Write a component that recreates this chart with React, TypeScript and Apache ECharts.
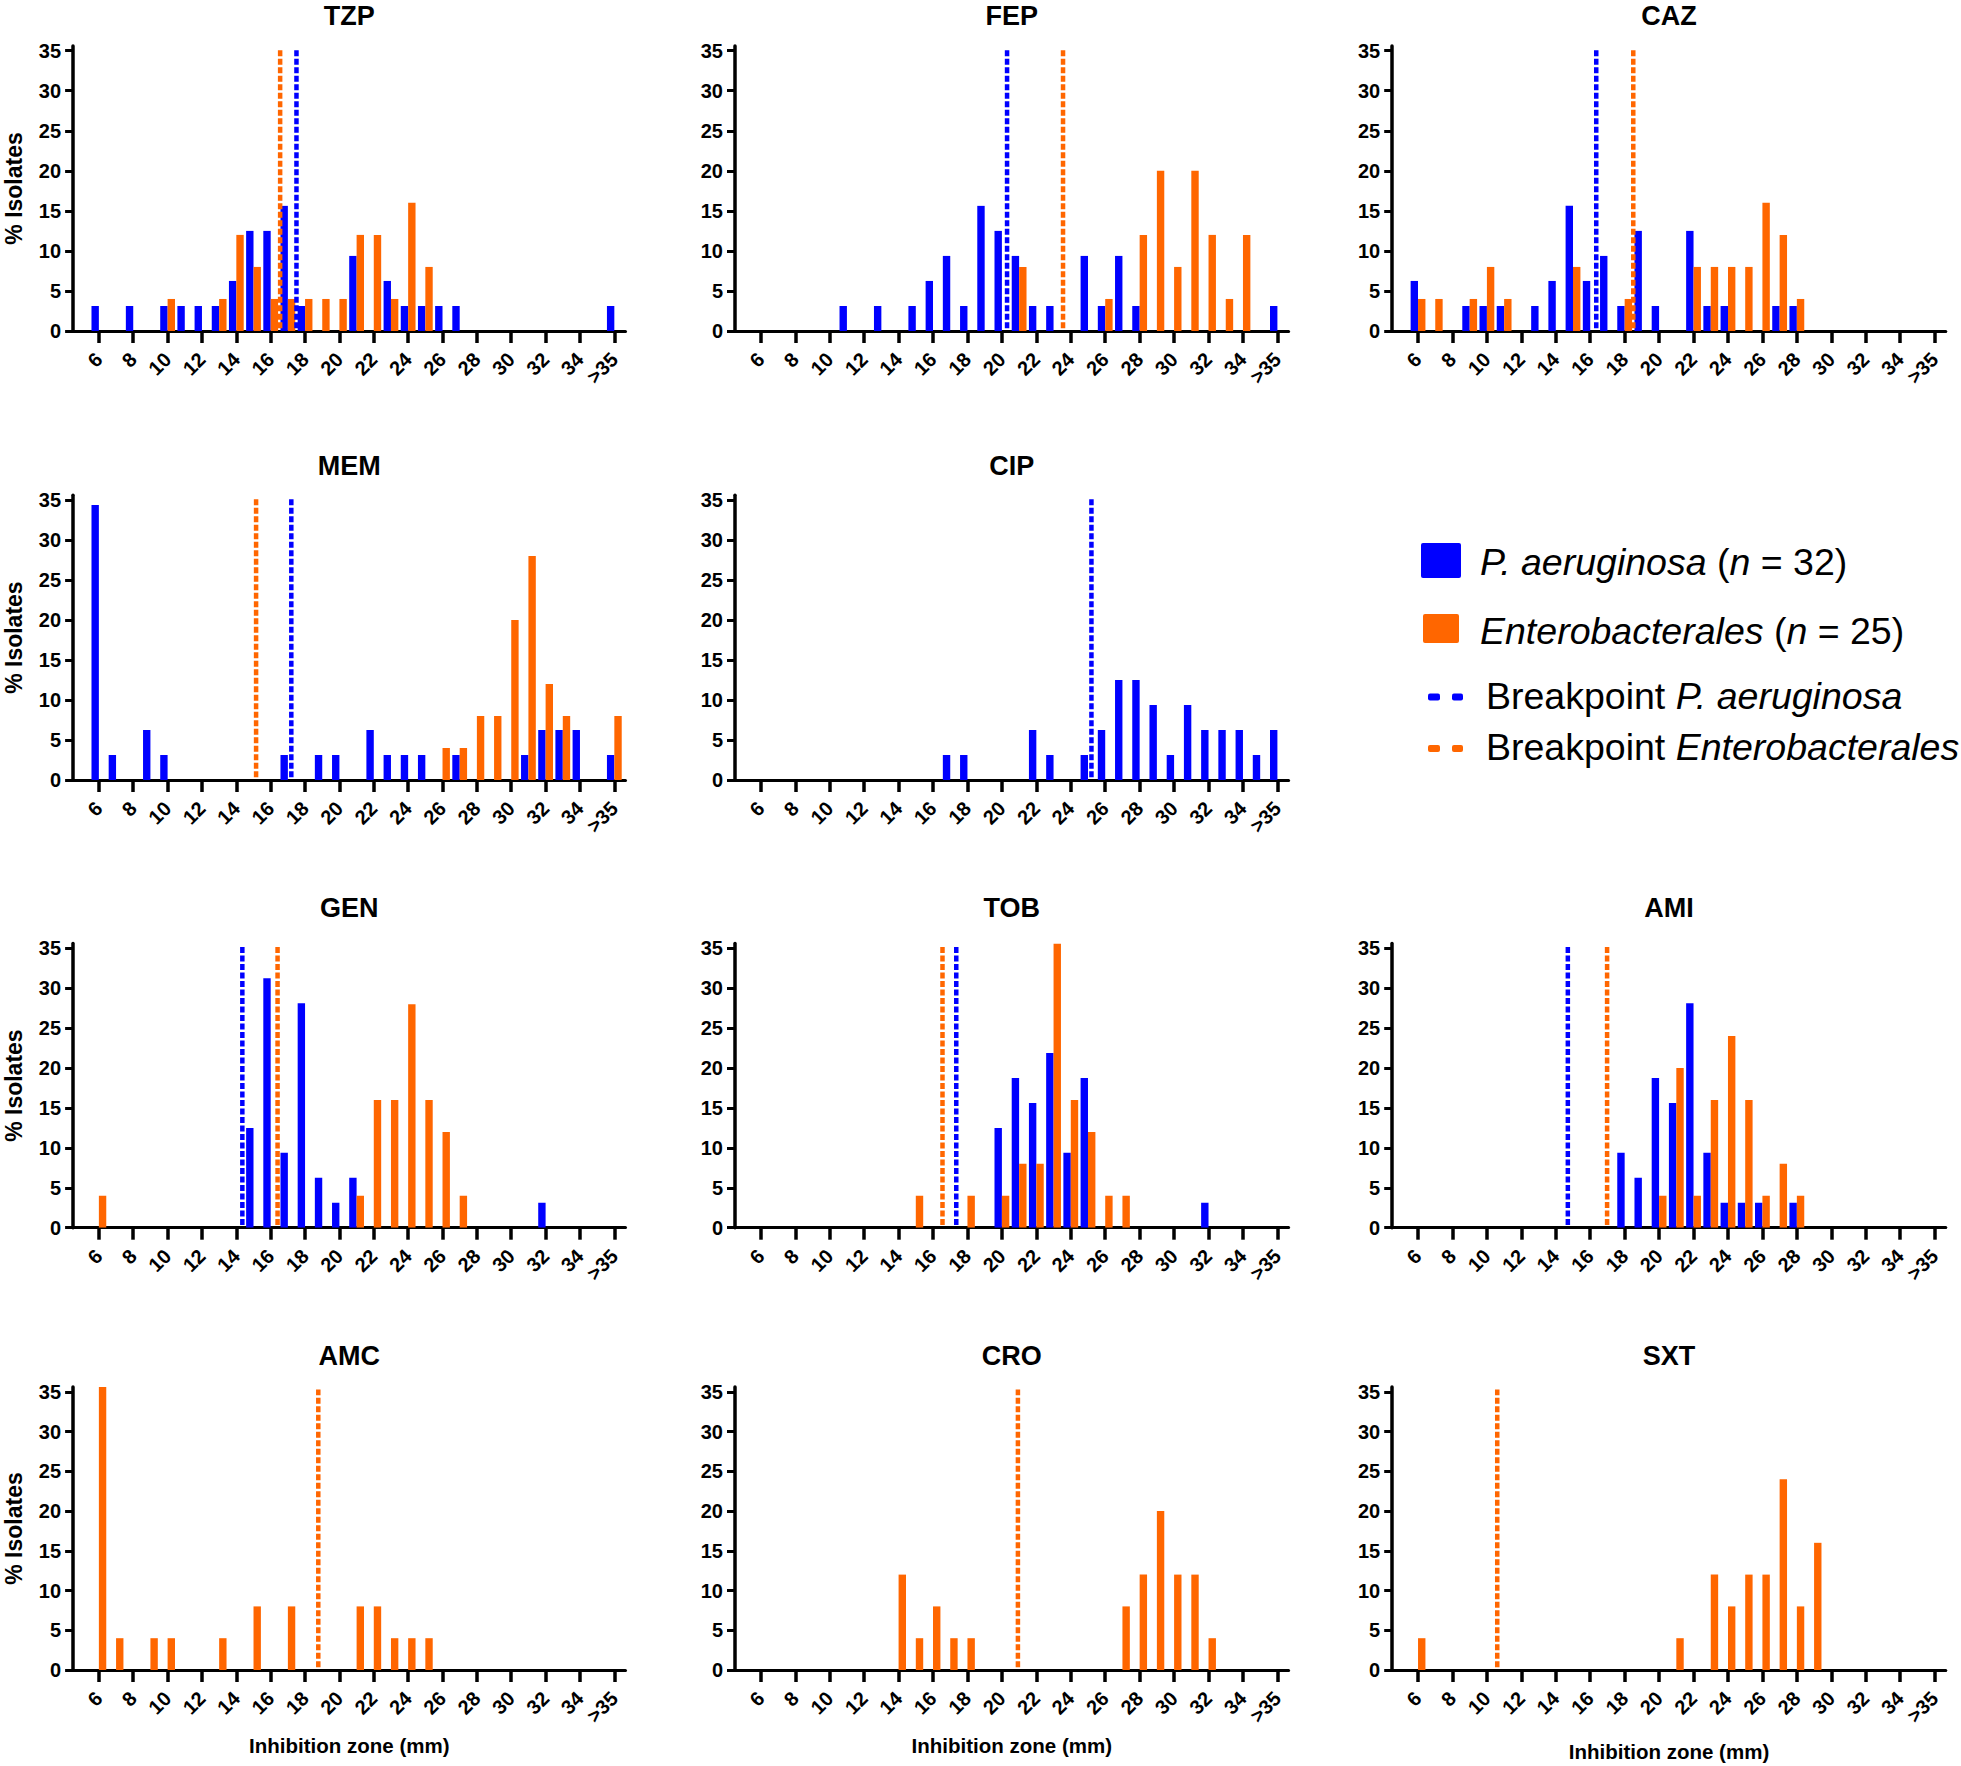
import React, { useEffect, useRef } from 'react';
import * as echarts from 'echarts';

const W = 1961;
const H = 1766;
const BLUE = '#0000FF';
const ORANGE = '#FF6600';
const FONT = "'Liberation Sans', Arial, Helvetica, sans-serif";

// x axis: inhibition zone (mm); 36 stands for ">35"
const ZONE_TICKS = [6, 8, 10, 12, 14, 16, 18, 20, 22, 24, 26, 28, 30, 32, 34, 36];
const ZONE_TICK_LABELS = ['6', '8', '10', '12', '14', '16', '18', '20', '22', '24', '26', '28', '30', '32', '34', '>35'];
const Y_TICKS = [0, 5, 10, 15, 20, 25, 30, 35];

// [zone, % isolates]
const TZP_PA: [number, number][] = [[6, 3.125], [8, 3.125], [10, 3.125], [11, 3.125], [12, 3.125], [13, 3.125], [14, 6.25], [15, 12.5], [16, 12.5], [17, 15.625], [18, 3.125], [21, 9.375], [23, 6.25], [24, 3.125], [25, 3.125], [26, 3.125], [27, 3.125], [36, 3.125]];
const TZP_EN: [number, number][] = [[10, 4], [13, 4], [14, 12], [15, 8], [16, 4], [17, 4], [18, 4], [19, 4], [20, 4], [21, 12], [22, 12], [23, 4], [24, 16], [25, 8]];

const FEP_PA: [number, number][] = [[11, 3.125], [13, 3.125], [15, 3.125], [16, 6.25], [17, 9.375], [18, 3.125], [19, 15.625], [20, 12.5], [21, 9.375], [22, 3.125], [23, 3.125], [25, 9.375], [26, 3.125], [27, 9.375], [28, 3.125], [36, 3.125]];
const FEP_EN: [number, number][] = [[21, 8], [26, 4], [28, 12], [29, 20], [30, 8], [31, 20], [32, 12], [33, 4], [34, 12]];

const CAZ_PA: [number, number][] = [[6, 6.25], [9, 3.125], [10, 3.125], [11, 3.125], [13, 3.125], [14, 6.25], [15, 15.625], [16, 6.25], [17, 9.375], [18, 3.125], [19, 12.5], [20, 3.125], [22, 12.5], [23, 3.125], [24, 3.125], [27, 3.125], [28, 3.125]];
const CAZ_EN: [number, number][] = [[6, 4], [7, 4], [9, 4], [10, 8], [11, 4], [15, 8], [18, 4], [22, 8], [23, 8], [24, 8], [25, 8], [26, 16], [27, 12], [28, 4]];

const MEM_PA: [number, number][] = [[6, 34.375], [7, 3.125], [9, 6.25], [10, 3.125], [17, 3.125], [19, 3.125], [20, 3.125], [22, 6.25], [23, 3.125], [24, 3.125], [25, 3.125], [27, 3.125], [31, 3.125], [32, 6.25], [33, 6.25], [34, 6.25], [36, 3.125]];
const MEM_EN: [number, number][] = [[26, 4], [27, 4], [28, 8], [29, 8], [30, 20], [31, 28], [32, 12], [33, 8], [36, 8]];

const CIP_PA: [number, number][] = [[17, 3.125], [18, 3.125], [22, 6.25], [23, 3.125], [25, 3.125], [26, 6.25], [27, 12.5], [28, 12.5], [29, 9.375], [30, 3.125], [31, 9.375], [32, 6.25], [33, 6.25], [34, 6.25], [35, 3.125], [36, 6.25]];

const GEN_PA: [number, number][] = [[15, 12.5], [16, 31.25], [17, 9.375], [18, 28.125], [19, 6.25], [20, 3.125], [21, 6.25], [32, 3.125]];
const GEN_EN: [number, number][] = [[6, 4], [21, 4], [22, 16], [23, 16], [24, 28], [25, 16], [26, 12], [27, 4]];

const TOB_PA: [number, number][] = [[20, 12.5], [21, 18.75], [22, 15.625], [23, 21.875], [24, 9.375], [25, 18.75], [32, 3.125]];
const TOB_EN: [number, number][] = [[15, 4], [18, 4], [20, 4], [21, 8], [22, 8], [23, 36], [24, 16], [25, 12], [26, 4], [27, 4]];

const AMI_PA: [number, number][] = [[18, 9.375], [19, 6.25], [20, 18.75], [21, 15.625], [22, 28.125], [23, 9.375], [24, 3.125], [25, 3.125], [26, 3.125], [28, 3.125]];
const AMI_EN: [number, number][] = [[20, 4], [21, 20], [22, 4], [23, 16], [24, 24], [25, 16], [26, 4], [27, 8], [28, 4]];

const AMC_EN: [number, number][] = [[6, 40], [7, 4], [9, 4], [10, 4], [13, 4], [15, 8], [17, 8], [21, 8], [22, 8], [23, 4], [24, 4], [25, 4]];
const CRO_EN: [number, number][] = [[14, 12], [15, 4], [16, 8], [17, 4], [18, 4], [27, 8], [28, 12], [29, 20], [30, 12], [31, 12], [32, 4]];
const SXT_EN: [number, number][] = [[6, 4], [21, 4], [23, 12], [24, 8], [25, 12], [26, 12], [27, 24], [28, 8], [29, 16]];

// breakpoints (mm)
const BREAKPOINTS_PA: Record<string, number> = { TZP: 17.5, FEP: 20.3, CAZ: 16.35, MEM: 17.2, CIP: 25.2, GEN: 14.35, TOB: 17.35, AMI: 14.7 };
const BREAKPOINTS_EN: Record<string, number> = { TZP: 16.55, FEP: 23.55, CAZ: 18.5, MEM: 15.15, GEN: 16.4, TOB: 16.55, AMI: 16.98, AMC: 18.77, CRO: 20.93, SXT: 10.6 };

const PANELS = [
  { name: 'TZP', row: 0, col: 0, pa: TZP_PA, en: TZP_EN },
  { name: 'FEP', row: 0, col: 1, pa: FEP_PA, en: FEP_EN },
  { name: 'CAZ', row: 0, col: 2, pa: CAZ_PA, en: CAZ_EN },
  { name: 'MEM', row: 1, col: 0, pa: MEM_PA, en: MEM_EN },
  { name: 'CIP', row: 1, col: 1, pa: CIP_PA, en: [] as [number, number][] },
  { name: 'GEN', row: 2, col: 0, pa: GEN_PA, en: GEN_EN },
  { name: 'TOB', row: 2, col: 1, pa: TOB_PA, en: TOB_EN },
  { name: 'AMI', row: 2, col: 2, pa: AMI_PA, en: AMI_EN },
  { name: 'AMC', row: 3, col: 0, pa: [] as [number, number][], en: AMC_EN },
  { name: 'CRO', row: 3, col: 1, pa: [] as [number, number][], en: CRO_EN },
  { name: 'SXT', row: 3, col: 2, pa: [] as [number, number][], en: SXT_EN },
];

// layout
const ROW_TOP = [45.9, 495.2, 943.5, 1387];
const ROW_H = [285.1, 284.8, 284.2, 283];
const COL_LEFT = [73.1, 735.0, 1392.2];
const COL_W = [552.4, 553.6, 553.6];
const TITLE_Y = [16.3, 465.8, 907.5, 1356];
const XTITLE_Y = [1745, 1745, 1751.5];
const X_MIN = 4.5;
const X_MAX = 36.65;
const Y_MAX = 35.6;
const BAR_FRAC = 0.43;

function makeRender(side: number, color: string) {
  return (params: any, api: any) => {
    const x = api.value(0);
    const v = api.value(1);
    const base = api.coord([x, 0]);
    const top = api.coord([x, v]);
    const w = api.size([1, 0])[0] * BAR_FRAC;
    const rect = {
      x: side < 0 ? base[0] - w : base[0],
      y: top[1],
      width: w,
      height: base[1] - top[1],
    };
    const cs = params.coordSys;
    const clipped = echarts.graphic.clipRectByRect(rect, { x: cs.x, y: cs.y, width: cs.width, height: cs.height });
    if (!clipped) return null;
    return { type: 'rect', shape: clipped, style: { fill: color } };
  };
}

function buildOption() {
  const grid: any[] = [];
  const xAxis: any[] = [];
  const yAxis: any[] = [];
  const series: any[] = [];
  const graphic: any[] = [];

  PANELS.forEach((p, i) => {
    const left = COL_LEFT[p.col];
    const width = COL_W[p.col];
    const top = ROW_TOP[p.row];
    const height = ROW_H[p.row];
    grid.push({ left, top, width, height, containLabel: false });
    xAxis.push({
      gridIndex: i,
      type: 'value',
      min: X_MIN,
      max: X_MAX,
      splitLine: { show: false },
      axisLine: { show: true, onZero: false, lineStyle: { color: '#000', width: 3 } },
      axisTick: { show: true, customValues: ZONE_TICKS, length: 12, lineStyle: { color: '#000', width: 3.5 } },
      axisLabel: {
        customValues: ZONE_TICKS,
        formatter: (v: number) => ZONE_TICK_LABELS[ZONE_TICKS.indexOf(v)] ?? '',
        rotate: 45,
        margin: 25,
        fontSize: 20,
        fontWeight: 'bold',
        fontFamily: FONT,
        color: '#000',
      },
    });
    yAxis.push({
      gridIndex: i,
      type: 'value',
      min: 0,
      max: Y_MAX,
      splitLine: { show: false },
      axisLine: { show: true, onZero: false, lineStyle: { color: '#000', width: 3.5 } },
      axisTick: { show: true, customValues: Y_TICKS, length: 8, lineStyle: { color: '#000', width: 3 } },
      axisLabel: {
        customValues: Y_TICKS,
        margin: 12,
        fontSize: 20,
        fontWeight: 'bold',
        fontFamily: FONT,
        color: '#000',
      },
    });
    if (p.pa.length) {
      series.push({
        type: 'custom',
        name: 'P. aeruginosa',
        xAxisIndex: i,
        yAxisIndex: i,
        renderItem: makeRender(-1, BLUE),
        encode: { x: 0, y: 1 },
        data: p.pa,
        clip: true,
        z: 2,
      });
    }
    if (p.en.length) {
      series.push({
        type: 'custom',
        name: 'Enterobacterales',
        xAxisIndex: i,
        yAxisIndex: i,
        renderItem: makeRender(1, ORANGE),
        encode: { x: 0, y: 1 },
        data: p.en,
        clip: true,
        z: 2,
      });
    }
    const bpPa = BREAKPOINTS_PA[p.name];
    const bpEn = BREAKPOINTS_EN[p.name];
    const addBp = (bp: number, color: string) => {
      series.push({
        type: 'line',
        xAxisIndex: i,
        yAxisIndex: i,
        data: [[bp, 0.35], [bp, 35.3]],
        symbol: 'none',
        silent: true,
        clip: false,
        z: 5,
        lineStyle: { color, width: 4.5, type: [6, 2.5] },
      });
    };
    if (bpEn !== undefined) addBp(bpEn, ORANGE);
    if (bpPa !== undefined) addBp(bpPa, BLUE);

    // panel title
    graphic.push({
      type: 'text',
      x: left + width / 2,
      y: TITLE_Y[p.row],
      style: {
        text: p.name,
        fill: '#000',
        fontSize: 27,
        fontWeight: 'bold',
        fontFamily: FONT,
        align: 'center',
        verticalAlign: 'middle',
        textAlign: 'center',
        textVerticalAlign: 'middle',
      },
    });
    if (p.col === 0) {
      graphic.push({
        type: 'text',
        x: 14,
        y: top + height / 2,
        rotation: Math.PI / 2,
        style: {
          text: '% Isolates',
          fill: '#000',
          fontSize: 23,
          fontWeight: 'bold',
          fontFamily: FONT,
          align: 'center',
          verticalAlign: 'middle',
          textAlign: 'center',
          textVerticalAlign: 'middle',
        },
      });
    }
    if (p.row === 3) {
      graphic.push({
        type: 'text',
        x: left + width / 2,
        y: XTITLE_Y[p.col],
        style: {
          text: 'Inhibition zone (mm)',
          fill: '#000',
          fontSize: 20.5,
          fontWeight: 'bold',
          fontFamily: FONT,
          align: 'center',
          verticalAlign: 'middle',
          textAlign: 'center',
          textVerticalAlign: 'middle',
        },
      });
    }
  });

  // legend
  const LEG_FS = 37.5;
  const legendText = (x: number, y: number, text: string) => ({
    type: 'text',
    x,
    y,
    style: {
      text,
      fill: '#000',
      fontSize: LEG_FS,
      fontFamily: FONT,
      align: 'left',
      verticalAlign: 'middle',
      textAlign: 'left',
      textVerticalAlign: 'middle',
      rich: {
        i: { fontStyle: 'italic', fontSize: LEG_FS, fontFamily: FONT, fill: '#000' },
        r: { fontSize: LEG_FS, fontFamily: FONT, fill: '#000' },
      },
    },
  });
  graphic.push({ type: 'rect', shape: { x: 1421, y: 543, width: 40, height: 35, r: 2 }, style: { fill: BLUE } });
  graphic.push({ type: 'rect', shape: { x: 1423, y: 614, width: 36, height: 29, r: 2 }, style: { fill: ORANGE } });
  graphic.push({ type: 'rect', shape: { x: 1428, y: 693.5, width: 12, height: 7, r: 2 }, style: { fill: BLUE } });
  graphic.push({ type: 'rect', shape: { x: 1452, y: 693.5, width: 11, height: 7, r: 2 }, style: { fill: BLUE } });
  graphic.push({ type: 'rect', shape: { x: 1428, y: 745, width: 12, height: 7, r: 2 }, style: { fill: ORANGE } });
  graphic.push({ type: 'rect', shape: { x: 1452, y: 745, width: 11, height: 7, r: 2 }, style: { fill: ORANGE } });
  graphic.push(legendText(1480, 562, '{i|P. aeruginosa}{r| (}{i|n}{r| = 32)}'));
  graphic.push(legendText(1480, 631, '{i|Enterobacterales}{r| (}{i|n}{r| = 25)}'));
  graphic.push(legendText(1486, 696, '{r|Breakpoint }{i|P. aeruginosa}'));
  graphic.push(legendText(1486, 747, '{r|Breakpoint }{i|Enterobacterales}'));

  return {
    animation: false,
    backgroundColor: '#fff',
    grid,
    xAxis,
    yAxis,
    series,
    graphic,
  };
}

export default function App() {
  const ref = useRef<HTMLDivElement>(null);
  useEffect(() => {
    document.body.style.margin = '0';
    const chart = echarts.init(ref.current!, null, { renderer: 'svg', width: W, height: H });
    chart.setOption(buildOption() as any);
    return () => {
      chart.dispose();
    };
  }, []);
  return <div ref={ref} style={{ width: W, height: H }} />;
}
